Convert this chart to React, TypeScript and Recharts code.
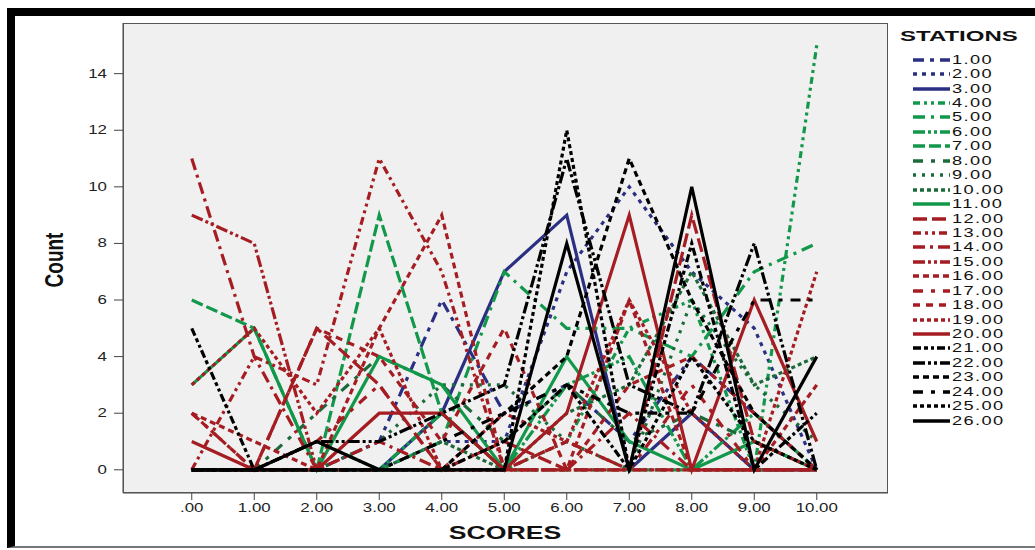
import React from 'react';
import { LineChart, Line, XAxis, YAxis, CartesianGrid, Legend } from 'recharts';

const scores = [0, 1, 2, 3, 4, 5, 6, 7, 8, 9, 10];
const xTickLabels = ['.00', '1.00', '2.00', '3.00', '4.00', '5.00', '6.00', '7.00', '8.00', '9.00', '10.00'];
const yTicks = [0, 2, 4, 6, 8, 10, 12, 14];
const stationNames = [
  '1.00', '2.00', '3.00', '4.00', '5.00', '6.00', '7.00', '8.00', '9.00', '10.00', '11.00', '12.00', '13.00',
  '14.00', '15.00', '16.00', '17.00', '18.00', '19.00', '20.00', '21.00', '22.00', '23.00', '24.00', '25.00', '26.00',
];

// counts per score (.00 .. 10.00) for each station
const station01 = [0, 0, 0, 1, 6, 2, 3, 1, 4, 2, 0];
const station02 = [0, 0, 0, 0, 1, 1, 7, 10, 7, 5, 0];
const station03 = [0, 0, 0, 0, 2, 7, 9, 0, 2, 0, 0];
const station04 = [0, 0, 0, 0, 0, 0, 1, 5, 6, 0, 15];
const station05 = [0, 0, 0, 0, 1, 7, 5, 5, 4, 7, 8];
const station06 = [0, 0, 1, 0, 2, 0, 3, 4, 0, 2, 0];
const station07 = [6, 5, 0, 9, 2, 0, 0, 0, 0, 0, 0];
const station08 = [0, 0, 2, 4, 3, 1, 3, 1, 2, 1, 0];
const station09 = [0, 0, 0, 1, 3, 3, 1, 0, 6, 3, 1];
const station10 = [0, 0, 0, 0, 1, 0, 2, 3, 7, 3, 4];
const station11 = [3, 5, 0, 4, 3, 0, 4, 1, 0, 1, 0];
const station12 = [0, 0, 5, 3, 0, 1, 0, 0, 9, 1, 0];
const station13 = [0, 4, 3, 11, 7, 0, 1, 0, 0, 0, 0];
const station14 = [11, 4, 0, 1, 0, 0, 0, 2, 0, 0, 0];
const station15 = [9, 8, 0, 0, 0, 0, 0, 0, 0, 0, 0];
const station16 = [2, 1, 0, 5, 9, 0, 0, 6, 0, 0, 3];
const station17 = [2, 0, 1, 3, 0, 0, 1, 0, 3, 0, 0];
const station18 = [2, 0, 5, 4, 1, 5, 0, 3, 4, 2, 0];
const station19 = [3, 5, 2, 5, 0, 2, 1, 6, 2, 0, 7];
const station20 = [1, 0, 0, 2, 2, 0, 2, 9, 0, 6, 1];
const station21 = [5, 0, 0, 0, 0, 1, 3, 0, 8, 0, 2];
const station22 = [0, 0, 1, 1, 2, 3, 11, 3, 2, 8, 0];
const station23 = [0, 0, 0, 0, 0, 2, 4, 11, 6, 2, 0];
const station24 = [0, 0, 0, 0, 1, 2, 3, 2, 2, 6, 6];
const station25 = [0, 0, 0, 0, 0, 0, 12, 0, 4, 1, 0];
const station26 = [0, 0, 1, 0, 0, 0, 8, 0, 10, 0, 4];

const stationSeries = [
  station01, station02, station03, station04, station05, station06, station07, station08, station09,
  station10, station11, station12, station13, station14, station15, station16, station17, station18,
  station19, station20, station21, station22, station23, station24, station25, station26,
];

const BLUE = '#2B2F82';
const GREEN = '#12984A';
const DKGREEN = '#1C6A3A';
const RED = '#A51D22';
const BLACK = '#000000';

const stationColors = [
  BLUE, BLUE, BLUE, GREEN, GREEN, GREEN, GREEN, DKGREEN, DKGREEN, DKGREEN, GREEN,
  RED, RED, RED, RED, RED, RED, RED, RED, RED,
  BLACK, BLACK, BLACK, BLACK, BLACK, BLACK,
];

const stationDashes: (string | undefined)[] = [
  '11 6 4 6', '4 5', undefined, '7 4 3 4 3 4', '12 6 3 6', '12 3 3 3 3 3', '12 4', '10 8 4 8', '3 6', '4 3', undefined,
  '14 5', '8 4 3 4 3 4', '12 5 3 5', '12 3 3 3 3 3', '6 4', '10 8 4 8', '7 6', '4 3', undefined,
  '8 3 4 3 3 3', '12 3 3 3 3 3', '6 4', '10 8 4 8', '4 3', undefined,
];

const rows = scores.map((s, i) => {
  const r: Record<string, number> = { score: s };
  stationSeries.forEach((arr, k) => {
    r[`s${k + 1}`] = arr[i];
  });
  return r;
});

const FONT = '"Liberation Sans", Arial, sans-serif';

const XTick = (props: any) => {
  const { x, y, payload } = props;
  const idx = scores.indexOf(payload.value);
  return (
    <text
      x={0}
      y={0}
      transform={`translate(${x},${y + 10}) scale(1.35,1)`}
      textAnchor="middle"
      fontSize={12.5}
      fontFamily={FONT}
      fill="#222"
    >
      {idx >= 0 ? xTickLabels[idx] : ''}
    </text>
  );
};

const YTick = (props: any) => {
  const { x, y, payload } = props;
  return (
    <text
      x={0}
      y={0}
      transform={`translate(${x - 5},${y + 4}) scale(1.35,1)`}
      textAnchor="end"
      fontSize={12.5}
      fontFamily={FONT}
      fill="#222"
    >
      {payload.value}
    </text>
  );
};

const renderLegend = () => (
  <div style={{ fontFamily: FONT, color: '#111' }}>
    <div
      style={{
        height: 25.5,
        lineHeight: '18px',
        fontWeight: 'bold',
        fontSize: 15,
        whiteSpace: 'nowrap',
        transform: 'scaleX(1.6)',
        transformOrigin: 'left center',
      }}
    >
      STATIONS
    </div>
    {stationNames.map((n, i) => (
      <div key={n} style={{ height: 14.45, display: 'flex', alignItems: 'center', whiteSpace: 'nowrap' }}>
        <svg width={52} height={8} style={{ display: 'block' }}>
          <line
            x1={13}
            y1={4}
            x2={50}
            y2={4}
            stroke={stationColors[i]}
            strokeWidth={3.6}
            strokeDasharray={stationDashes[i]}
          />
        </svg>
        <span
          style={{
            fontSize: 13,
            letterSpacing: 1,
            lineHeight: '14px',
            display: 'inline-block',
            transform: 'scaleX(1.4)',
            transformOrigin: 'left center',
          }}
        >
          {n}
        </span>
      </div>
    ))}
  </div>
);

export default function App() {
  return (
    <div style={{ position: 'absolute', left: 0, top: 0, width: 1035, height: 550, background: '#fff', overflow: 'hidden' }}>
      <LineChart
        width={1035}
        height={550}
        data={rows}
        margin={{ top: 23, right: 147, bottom: 17, left: 63 }}
      >
        <CartesianGrid fill="#F0F0F0" horizontal={false} vertical={false} />
        <XAxis
          type="number"
          dataKey="score"
          domain={[-1.1, 11.14]}
          ticks={scores}
          interval={0}
          tick={<XTick />}
          tickSize={7}
          height={40}
          stroke="#444"
          allowDataOverflow
        />
        <YAxis
          type="number"
          domain={[-0.82, 15.79]}
          ticks={yTicks}
          interval={0}
          tick={<YTick />}
          tickSize={9}
          width={60}
          stroke="#444"
          allowDataOverflow
        />
        {stationSeries.map((_, k) => (
          <Line
            key={k}
            type="linear"
            dataKey={`s${k + 1}`}
            name={stationNames[k]}
            stroke={stationColors[k]}
            strokeWidth={3.2}
            strokeDasharray={stationDashes[k]}
            dot={false}
            activeDot={false}
            isAnimationActive={false}
          />
        ))}
        <Legend
          layout="vertical"
          align="center"
          verticalAlign="middle"
          content={renderLegend}
          wrapperStyle={{ left: 900, top: 27, width: 135, height: 400 }}
        />
      </LineChart>
      <div
        style={{
          position: 'absolute',
          left: 123,
          top: 23,
          width: 765,
          height: 470,
          border: '1px solid #555',
          boxSizing: 'border-box',
          pointerEvents: 'none',
        }}
      />
      <div
        style={{
          position: 'absolute',
          left: 55,
          top: 260,
          fontFamily: FONT,
          fontWeight: 'bold',
          fontSize: 19,
          whiteSpace: 'nowrap',
          color: '#111',
          transform: 'translate(-50%,-50%) rotate(-90deg) scaleY(1.35)',
        }}
      >
        Count
      </div>
      <div
        style={{
          position: 'absolute',
          left: 505,
          top: 533,
          fontFamily: FONT,
          fontWeight: 'bold',
          fontSize: 19,
          whiteSpace: 'nowrap',
          color: '#111',
          transform: 'translate(-50%,-50%) scaleX(1.4)',
        }}
      >
        SCORES
      </div>
      <div
        style={{
          position: 'absolute',
          left: 7,
          top: 8,
          width: 1028,
          height: 540,
          borderLeft: '8px solid #000',
          borderTop: '8px solid #000',
          borderBottom: '2px solid #777',
          boxSizing: 'border-box',
          pointerEvents: 'none',
        }}
      />
    </div>
  );
}
